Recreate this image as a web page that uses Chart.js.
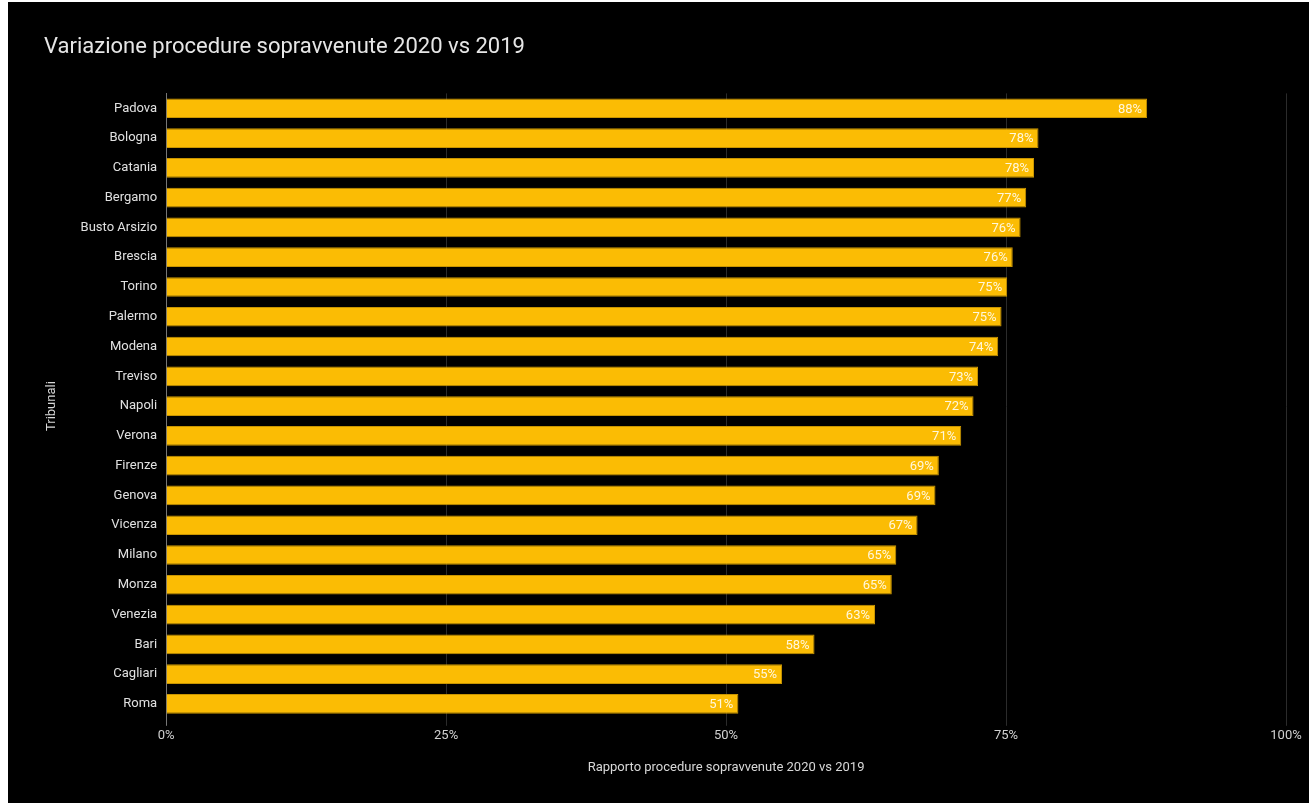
<!DOCTYPE html>
<html>
<head>
<meta charset="utf-8">
<script src="https://cdn.jsdelivr.net/npm/chart.js@4"></script>
<style>
  html, body { margin: 0; padding: 0; background: #ffffff; }
  #wrap { position: absolute; left: 8px; top: 2px; width: 1301px; height: 801px; background: #000000; }
</style>
</head>
<body>
<div id="wrap"><canvas id="chart" width="1301" height="801"></canvas></div>
<script>
// tribunali, ordinati come nel grafico
var tribunali = ['Padova','Bologna','Catania','Bergamo','Busto Arsizio','Brescia','Torino','Palermo','Modena','Treviso','Napoli','Verona','Firenze','Genova','Vicenza','Milano','Monza','Venezia','Bari','Cagliari','Roma'];
// rapporto procedure 2020 vs 2019 (%)
var rapporto = [87.6, 77.9, 77.5, 76.8, 76.3, 75.6, 75.1, 74.6, 74.3, 72.5, 72.1, 71.0, 69.0, 68.7, 67.1, 65.2, 64.8, 63.3, 57.9, 55.0, 51.1];
var xTicks = [0, 25, 50, 75, 100];

var giallo = '#fbbc04';
var font = 'Roboto';

// etichette dentro la barra, a destra
var valueLabels = {
	id: 'valueLabels',
	afterDatasetsDraw: function(chart) {
		var ctx = chart.ctx;
		var meta = chart.getDatasetMeta(0);
		ctx.save();
		ctx.font = '13px ' + font;
		ctx.fillStyle = '#fff7dc';
		ctx.textAlign = 'right';
		ctx.textBaseline = 'middle';
		meta.data.forEach(function(bar, i) {
			ctx.fillText(Math.round(rapporto[i]) + '%', bar.x - 5, bar.y + 1);
		});
		ctx.restore();
	}
};

var ctx = document.getElementById('chart').getContext('2d');
var chart = new Chart(ctx, {
	type: 'bar',
	data: {
		labels: tribunali,
		datasets: [{
			label: 'Rapporto',
			data: rapporto,
			backgroundColor: giallo,
			borderColor: '#c99500',
			borderWidth: 1,
			barPercentage: 0.66,
			categoryPercentage: 1
		}]
	},
	plugins: [valueLabels],
	options: {
		indexAxis: 'y',
		responsive: false,
		animation: false,
		layout: { padding: { left: 36, right: 23, top: 29, bottom: 27 } },
		plugins: {
			legend: { display: false },
			tooltip: { enabled: false },
			title: {
				display: true,
				text: 'Variazione procedure sopravvenute 2020 vs 2019',
				align: 'start',
				color: '#e6e6e6',
				font: { family: font, size: 22, weight: 'normal' },
				padding: { top: 3, bottom: 33 }
			}
		},
		scales: {
			x: {
				min: 0,
				max: 100,
				afterBuildTicks: function(axis) {
					axis.ticks = xTicks.map(function(v) { return { value: v }; });
				},
				grid: {
					color: function(c) { return c.tick && c.tick.value === 0 ? '#777777' : '#2b2b2b'; },
					tickColor: function(c) { return c.tick && c.tick.value === 0 ? '#777777' : '#2b2b2b'; },
					tickLength: 7,
					lineWidth: 1
				},
				border: { display: false },
				ticks: {
					color: '#d0d0d0',
					font: { family: font, size: 13 },
					padding: 2,
					callback: function(v) { return v + '%'; }
				},
				title: {
					display: true,
					text: 'Rapporto procedure sopravvenute 2020 vs 2019',
					color: '#d8d8d8',
					font: { family: font, size: 13 },
					padding: { top: 15, bottom: 0 }
				}
			},
			y: {
				grid: { display: false, drawTicks: false },
				border: { display: true, color: '#777777', width: 1 },
				ticks: {
					color: '#e0e0e0',
					font: { family: font, size: 13 },
					padding: 9
				},
				title: {
					display: true,
					text: 'Tribunali',
					color: '#d8d8d8',
					font: { family: font, size: 13 },
					padding: { top: 0, bottom: 12 }
				}
			}
		}
	}
});
</script>
</body>
</html>
